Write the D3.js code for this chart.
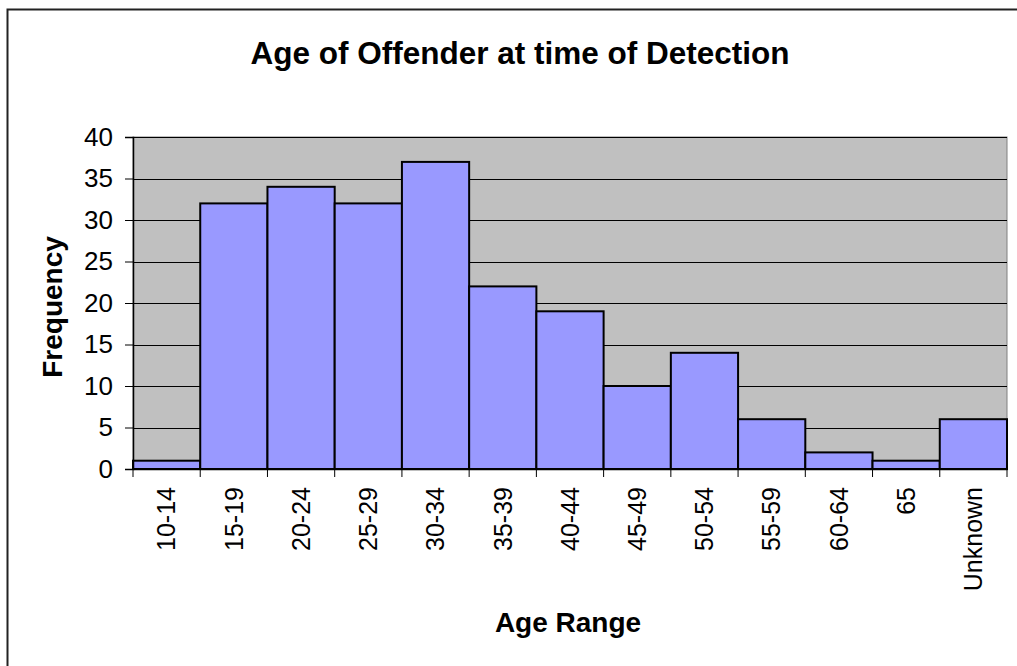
<!DOCTYPE html>
<html><head><meta charset="utf-8">
<script src="https://cdn.jsdelivr.net/npm/d3@7"></script>
<style>
html,body{margin:0;padding:0;background:#fff;}
svg{display:block;font-family:"Liberation Sans",Arial,sans-serif;}
</style></head>
<body>
<svg id="c" width="1017" height="666"></svg>
<script>
const categories = ["10-14","15-19","20-24","25-29","30-34","35-39","40-44","45-49","50-54","55-59","60-64","65","Unknown"];
const frequency = [1,32,34,32,37,22,19,10,14,6,2,1,6];
const yTicks = [0,5,10,15,20,25,30,35,40];
const titleText = "Age of Offender at time of Detection";
const xTitle = "Age Range";
const yTitle = "Frequency";

const svg = d3.select("#c");
const m = {left:133, right:1007, top:137, bottom:469};

// outer chart border
svg.append("rect").attr("x",7.5).attr("y",9.5).attr("width",1100).attr("height",800)
  .attr("fill","#fff").attr("stroke","#222").attr("stroke-width",2);

const x = d3.scaleBand().domain(categories).range([m.left,m.right]).padding(0);
const y = d3.scaleLinear().domain([0,40]).range([m.bottom,m.top]);

// plot area
svg.append("rect").attr("x",m.left).attr("y",m.top).attr("width",m.right-m.left).attr("height",m.bottom-m.top)
  .attr("fill","#C0C0C0").attr("stroke","#808080").attr("stroke-width",1);

// gridlines
svg.append("g").selectAll("line").data(yTicks.filter(d=>d>0)).join("line")
  .attr("x1",m.left).attr("x2",m.right)
  .attr("y1",d=>Math.round(y(d))+0.5).attr("y2",d=>Math.round(y(d))+0.5)
  .attr("stroke","#000").attr("stroke-width",1);

// bars
svg.append("g").selectAll("rect").data(categories).join("rect")
  .attr("x",d=>x(d)).attr("width",x.bandwidth())
  .attr("y",(d,i)=>y(frequency[i])).attr("height",(d,i)=>y(0)-y(frequency[i]))
  .attr("fill","#9999FF").attr("stroke","#000").attr("stroke-width",2);

// y axis
const yAxis = d3.axisLeft(y).tickValues(yTicks).tickSize(8).tickPadding(12);
const gy = svg.append("g").attr("transform",`translate(${m.left},0)`).call(yAxis);
gy.select(".domain").attr("stroke","#000").attr("stroke-width",1.5);
gy.selectAll(".tick line").attr("stroke","#000");
gy.selectAll("text").attr("font-size",26).attr("fill","#000").attr("font-family","'Liberation Sans',Arial,sans-serif");

// x axis
const xAxis = d3.axisBottom(x).tickSize(0).tickPadding(0);
const gx = svg.append("g").attr("transform",`translate(0,${m.bottom})`).call(xAxis);
gx.select(".domain").attr("stroke","#000").attr("stroke-width",1.5);
gx.selectAll(".tick text")
  .attr("font-size",25).attr("fill","#000").attr("font-family","'Liberation Sans',Arial,sans-serif")
  .attr("transform","rotate(-90)").attr("text-anchor","end")
  .attr("x",-18).attr("y",0).attr("dy","0.35em");
// boundary ticks
const bounds = categories.map(d=>x(d)).concat([m.right]);
svg.append("g").selectAll("line").data(bounds).join("line")
  .attr("x1",d=>d).attr("x2",d=>d).attr("y1",m.bottom).attr("y2",m.bottom+8)
  .attr("stroke","#000").attr("stroke-width",1);

// titles
svg.append("text").attr("x",520).attr("y",64).attr("text-anchor","middle")
  .attr("font-size",31.5).attr("font-weight","bold").text(titleText);
svg.append("text").attr("x",568).attr("y",632).attr("text-anchor","middle")
  .attr("font-size",28).attr("font-weight","bold").text(xTitle);
svg.append("text").attr("transform","translate(62,307) rotate(-90)").attr("text-anchor","middle")
  .attr("font-size",28).attr("font-weight","bold").text(yTitle);
</script>
</body></html>
